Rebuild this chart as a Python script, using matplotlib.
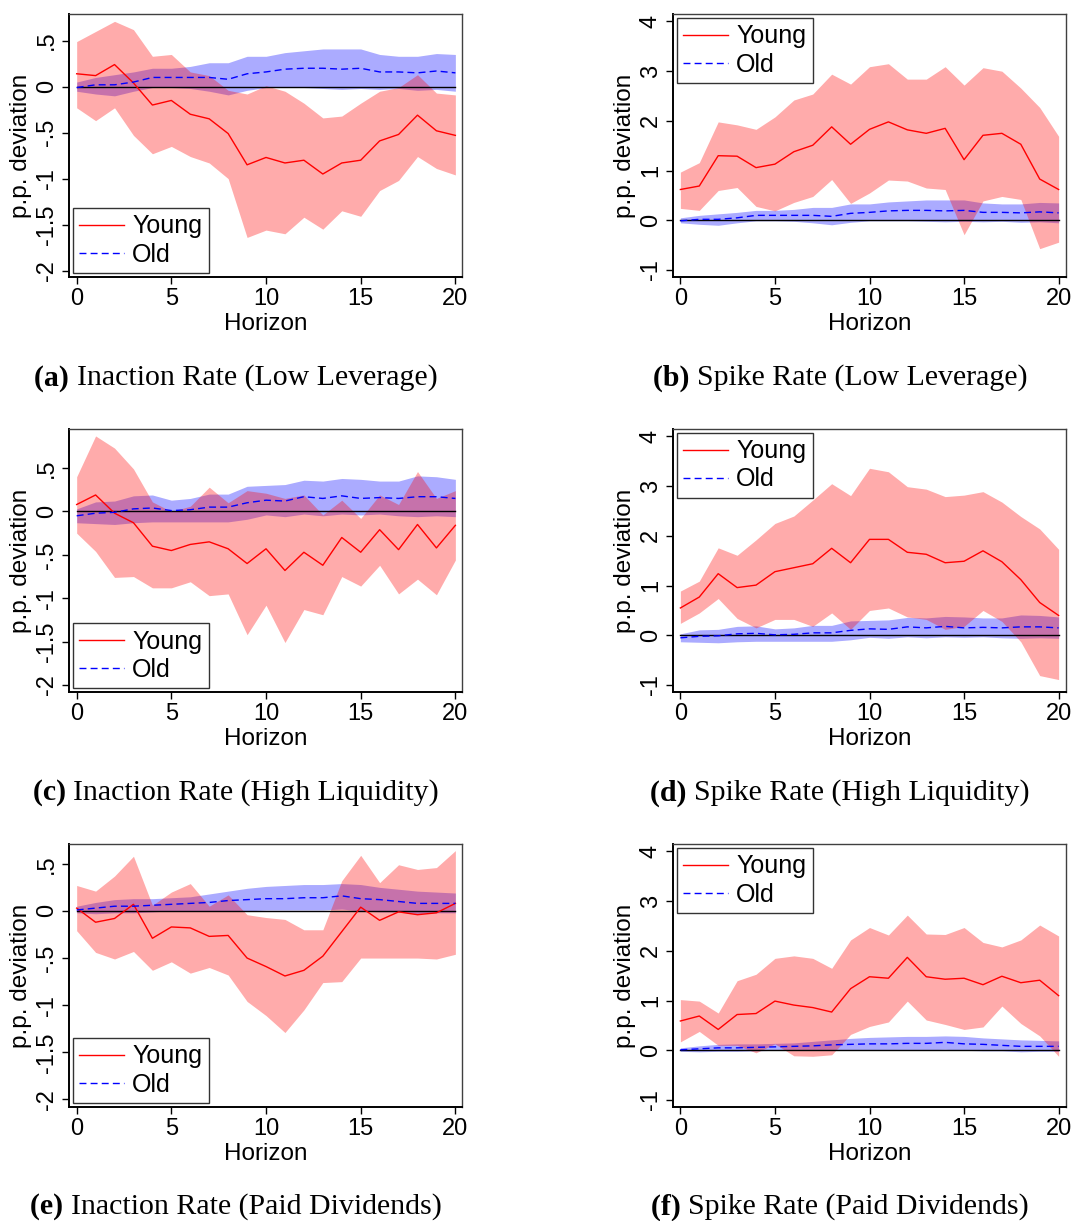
import numpy as np
import matplotlib
matplotlib.use("Agg")
import matplotlib.pyplot as plt

plt.rcParams["font.family"] = ["Liberation Sans", "DejaVu Sans"]

horizon = np.arange(21)

# row 1: low leverage
young_a = [0.14, 0.12, 0.24, 0.04, -0.20, -0.15, -0.30, -0.35, -0.51, -0.85, -0.77,
           -0.83, -0.80, -0.95, -0.83, -0.80, -0.59, -0.52, -0.31, -0.48, -0.53]
young_a_hi = [0.49, 0.60, 0.71, 0.62, 0.33, 0.35, 0.16, 0.12, -0.04, -0.08, 0.01,
              -0.05, -0.18, -0.34, -0.32, -0.18, -0.05, -0.01, 0.13, -0.07, -0.09]
young_a_lo = [-0.23, -0.37, -0.23, -0.53, -0.73, -0.65, -0.76, -0.83, -1.00, -1.64, -1.56,
              -1.60, -1.42, -1.55, -1.35, -1.41, -1.13, -1.02, -0.76, -0.89, -0.96]
young_b = [0.62, 0.69, 1.30, 1.29, 1.06, 1.13, 1.38, 1.51, 1.88, 1.53, 1.83,
           1.98, 1.82, 1.75, 1.85, 1.22, 1.71, 1.75, 1.53, 0.83, 0.62]
young_b_hi = [0.97, 1.16, 1.98, 1.92, 1.83, 2.08, 2.42, 2.54, 2.94, 2.74, 3.09,
              3.15, 2.84, 2.84, 3.09, 2.72, 3.07, 3.00, 2.66, 2.27, 1.69]
young_b_lo = [0.24, 0.20, 0.60, 0.66, 0.28, 0.19, 0.36, 0.48, 0.82, 0.34, 0.55,
              0.81, 0.79, 0.65, 0.62, -0.29, 0.39, 0.48, 0.42, -0.57, -0.44]
old_1 = [-0.01, 0.02, 0.02, 0.05, 0.10, 0.10, 0.10, 0.10, 0.08, 0.14, 0.16,
         0.19, 0.20, 0.20, 0.19, 0.20, 0.16, 0.16, 0.15, 0.17, 0.15]
old_1_hi = [0.05, 0.10, 0.13, 0.16, 0.20, 0.20, 0.22, 0.26, 0.26, 0.33, 0.33,
            0.37, 0.39, 0.41, 0.41, 0.41, 0.35, 0.33, 0.33, 0.36, 0.35]
old_1_lo = [-0.05, -0.08, -0.10, -0.05, -0.01, -0.01, -0.02, -0.05, -0.09, -0.04, -0.01,
            -0.01, -0.01, -0.02, -0.03, -0.02, -0.03, -0.02, -0.04, -0.03, -0.05]

# row 2: high liquidity
young_c = [0.08, 0.19, -0.02, -0.13, -0.40, -0.45, -0.38, -0.35, -0.43, -0.60, -0.43,
           -0.68, -0.47, -0.62, -0.30, -0.47, -0.21, -0.44, -0.15, -0.42, -0.16]
young_c_hi = [0.40, 0.87, 0.73, 0.49, 0.11, 0.00, 0.06, 0.28, 0.10, 0.24, 0.21,
              0.15, 0.19, -0.04, 0.13, -0.08, 0.19, 0.08, 0.46, 0.15, 0.24]
young_c_lo = [-0.25, -0.46, -0.76, -0.75, -0.88, -0.88, -0.81, -0.97, -0.95, -1.42, -1.08,
              -1.51, -1.13, -1.19, -0.75, -0.86, -0.62, -0.95, -0.78, -0.96, -0.56]
young_d = [0.55, 0.77, 1.24, 0.96, 1.01, 1.28, 1.36, 1.44, 1.75, 1.46, 1.93,
           1.93, 1.67, 1.63, 1.46, 1.49, 1.70, 1.48, 1.12, 0.66, 0.40]
young_d_hi = [0.89, 1.09, 1.76, 1.61, 1.92, 2.25, 2.40, 2.72, 3.05, 2.81, 3.36,
              3.29, 2.99, 2.94, 2.79, 2.82, 2.89, 2.68, 2.39, 2.14, 1.73]
young_d_lo = [0.24, 0.45, 0.74, 0.34, 0.15, 0.32, 0.32, 0.18, 0.45, 0.12, 0.50,
              0.55, 0.37, 0.32, 0.12, 0.18, 0.50, 0.28, -0.13, -0.81, -0.89]
old_2 = [-0.05, -0.02, -0.01, 0.03, 0.04, 0.01, 0.02, 0.05, 0.05, 0.10, 0.13,
         0.12, 0.17, 0.15, 0.18, 0.15, 0.16, 0.15, 0.17, 0.17, 0.15]
old_2_hi = [0.03, 0.11, 0.12, 0.18, 0.19, 0.13, 0.15, 0.20, 0.20, 0.29, 0.30,
            0.31, 0.36, 0.35, 0.38, 0.37, 0.35, 0.35, 0.41, 0.40, 0.37]
old_2_lo = [-0.13, -0.14, -0.15, -0.13, -0.12, -0.12, -0.12, -0.12, -0.12, -0.09, -0.04,
            -0.06, -0.03, -0.05, -0.03, -0.04, -0.03, -0.05, -0.06, -0.05, -0.06]

# row 3: paid dividends
young_e = [0.03, -0.12, -0.08, 0.07, -0.29, -0.17, -0.18, -0.27, -0.26, -0.50, -0.59,
           -0.69, -0.63, -0.48, -0.22, 0.04, -0.10, -0.01, -0.04, -0.02, 0.08]
young_e_hi = [0.27, 0.21, 0.37, 0.58, 0.06, 0.20, 0.29, 0.05, 0.17, -0.04, -0.07,
              -0.09, -0.20, -0.20, 0.32, 0.59, 0.30, 0.49, 0.44, 0.46, 0.64]
young_e_lo = [-0.21, -0.44, -0.51, -0.43, -0.63, -0.54, -0.66, -0.60, -0.68, -0.96, -1.11,
              -1.29, -1.05, -0.76, -0.75, -0.50, -0.50, -0.50, -0.50, -0.51, -0.46]
young_f = [0.59, 0.69, 0.42, 0.72, 0.74, 0.99, 0.91, 0.86, 0.77, 1.24, 1.48,
           1.45, 1.87, 1.48, 1.43, 1.45, 1.32, 1.49, 1.36, 1.41, 1.10]
young_f_hi = [1.02, 0.99, 0.75, 1.40, 1.53, 1.85, 1.90, 1.85, 1.65, 2.22, 2.47,
              2.32, 2.72, 2.34, 2.33, 2.47, 2.17, 2.08, 2.22, 2.52, 2.30]
young_f_lo = [0.17, 0.38, 0.10, 0.10, -0.05, 0.13, -0.11, -0.12, -0.09, 0.32, 0.48,
              0.57, 0.99, 0.61, 0.52, 0.42, 0.47, 0.89, 0.54, 0.29, -0.12]
old_3 = [0.01, 0.03, 0.05, 0.05, 0.06, 0.07, 0.08, 0.09, 0.11, 0.12, 0.13,
         0.13, 0.14, 0.14, 0.16, 0.13, 0.12, 0.10, 0.08, 0.08, 0.08]
old_3_hi = [0.05, 0.09, 0.12, 0.13, 0.13, 0.14, 0.15, 0.18, 0.21, 0.24, 0.26,
            0.27, 0.28, 0.28, 0.29, 0.28, 0.25, 0.23, 0.21, 0.20, 0.19]
old_3_lo = [-0.02, -0.03, -0.02, -0.02, -0.01, 0.00, 0.00, 0.00, 0.00, 0.00, 0.01,
            0.01, 0.01, 0.01, 0.02, 0.00, -0.01, -0.01, -0.03, -0.02, -0.02]

inaction_ticks = [0.5, 0, -0.5, -1, -1.5, -2]
inaction_labels = [".5", "0", "-.5", "-1", "-1.5", "-2"]
spike_ticks = [-1, 0, 1, 2, 3, 4]
spike_labels = ["-1", "0", "1", "2", "3", "4"]

panels = [
    ("(a)", "Inaction Rate (Low Leverage)", young_a, young_a_lo, young_a_hi, old_1, old_1_lo, old_1_hi, "inaction", (-2.07, 0.79)),
    ("(b)", "Spike Rate (Low Leverage)", young_b, young_b_lo, young_b_hi, old_1, old_1_lo, old_1_hi, "spike", (-1.14, 4.15)),
    ("(c)", "Inaction Rate (High Liquidity)", young_c, young_c_lo, young_c_hi, old_2, old_2_lo, old_2_hi, "inaction", (-2.08, 0.95)),
    ("(d)", "Spike Rate (High Liquidity)", young_d, young_d_lo, young_d_hi, old_2, old_2_lo, old_2_hi, "spike", (-1.14, 4.15)),
    ("(e)", "Inaction Rate (Paid Dividends)", young_e, young_e_lo, young_e_hi, old_3, old_3_lo, old_3_hi, "inaction", (-2.08, 0.71)),
    ("(f)", "Spike Rate (Paid Dividends)", young_f, young_f_lo, young_f_hi, old_3, old_3_lo, old_3_hi, "spike", (-1.14, 4.15)),
]

W, H = 1075, 1221
fig = plt.figure(figsize=(W / 100, H / 100), dpi=100)

col_left = [69, 673]
col_right = [462, 1066]
row_top = [14, 429, 844]
row_bot = [277, 692, 1107]
cap_center = [236, 840]
cap_y = [378, 793, 1207]

caps = []
for i, (tag, title, y, ylo, yhi, o, olo, ohi, kind, ylim) in enumerate(panels):
    r, c = divmod(i, 2)
    l, rr = col_left[c], col_right[c]
    t, b = row_top[r], row_bot[r]
    ax = fig.add_axes([l / W, 1 - b / H, (rr - l) / W, (b - t) / H])

    ax.fill_between(horizon, olo, ohi, color="blue", alpha=0.33, lw=0)
    ax.fill_between(horizon, ylo, yhi, color="red", alpha=0.33, lw=0)
    ax.plot(horizon, np.zeros(len(horizon)), color="black", lw=1.0)
    ax.plot(horizon, y, color="red", lw=1.0, label="Young")
    ax.plot(horizon, o, color="blue", lw=1.0, ls=(0, (5, 3)), label="Old")

    if kind == "inaction":
        ax.set_xlim(-0.405, 20.35)
        ax.set_yticks(inaction_ticks)
        ax.set_yticklabels(inaction_labels, rotation=90, va="center")
        loc = "lower left"
    else:
        ax.set_xlim(-0.39, 20.39)
        ax.set_yticks(spike_ticks)
        ax.set_yticklabels(spike_labels, rotation=90, va="center")
        loc = "upper left"
    ax.set_ylim(*ylim)
    ax.set_xticks([0, 5, 10, 15, 20])
    ax.tick_params(labelsize=17, length=5, width=1, pad=3)
    ax.tick_params(axis="y", pad=3)
    ax.set_xlabel("Horizon", fontsize=17.5, labelpad=2)
    ax.set_ylabel("p.p. deviation", fontsize=17.5)
    ax.yaxis.set_label_coords(-0.094, 0.5)
    for s in ax.spines.values():
        s.set_color("#404040")
        s.set_linewidth(1.0)
    ax.spines["left"].set_color("black")
    ax.spines["bottom"].set_color("black")
    ax.spines["left"].set_linewidth(1.4)
    ax.spines["bottom"].set_linewidth(1.4)

    leg = ax.legend(loc=loc, fontsize=18, frameon=True, fancybox=False,
                    handlelength=1.8, handletextpad=0.32, borderpad=0.25,
                    labelspacing=0.17, borderaxespad=0.16)
    leg.get_frame().set_edgecolor("black")
    leg.get_frame().set_linewidth(1.0)

    t1 = fig.text(0, 1 - cap_y[r] / H, tag + " ", fontsize=21.5, fontweight="bold",
                  family="Liberation Serif", va="center")
    t2 = fig.text(0, 1 - cap_y[r] / H, title, fontsize=21.5,
                  family="Liberation Serif", va="center")
    caps.append((t1, t2, cap_center[c]))

renderer = fig.canvas.get_renderer()
for t1, t2, cx in caps:
    w1 = t1.get_window_extent(renderer).width
    w2 = t2.get_window_extent(renderer).width
    x0 = cx - (w1 + w2) / 2
    t1.set_x(x0 / W)
    t2.set_x((x0 + w1) / W)

fig.savefig("out.png", dpi=100)
